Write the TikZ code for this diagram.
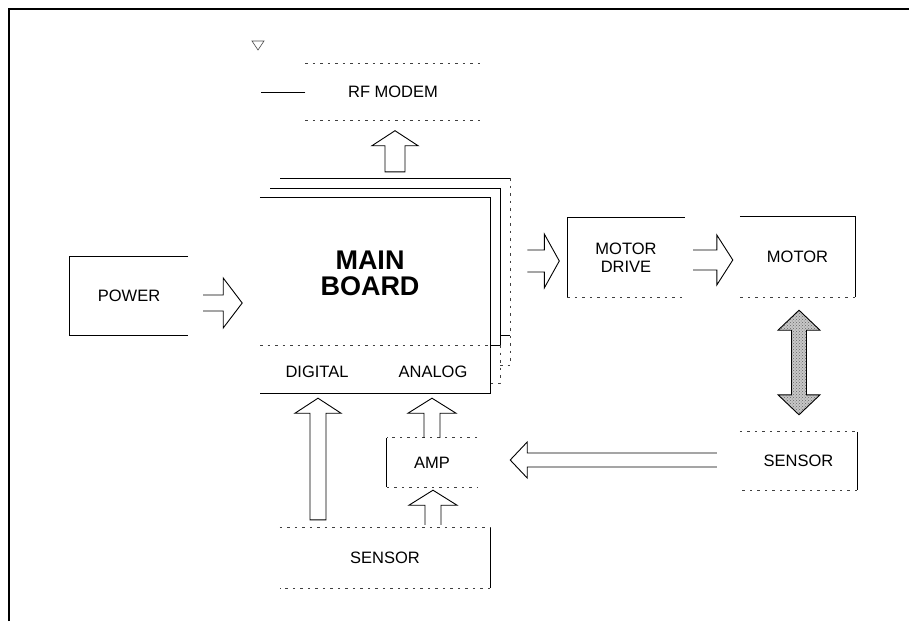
\documentclass[tikz,border=0pt]{standalone}
\usepackage{fontspec}
\setmainfont{Liberation Sans}
\usetikzlibrary{calc,patterns}
\tikzset{
  box/.style={draw=none, inner sep=0pt, font=\fontsize{16.5}{18}\selectfont, align=center},
  lab/.style={inner sep=0pt, font=\fontsize{16.5}{18}\selectfont, align=center},
  edge/.style={line width=1pt, black},
  faint/.style={line width=0.7pt, black!75, dash pattern=on 2.5pt off 5pt},
  arr/.style={line width=0.9pt, black, line join=miter},
  frame/.style={line width=1.6pt, black}
}
% open-tail hollow block arrow: [opts]{start}{end}{shaft half}{head half}{head length}
\newcommand\barrow[6][]{%
  \draw[arr,#1] let \p1=#2, \p2=#3, \n1={atan2(\y2-\y1,\x2-\x1)}, \n2={veclen(\x2-\x1,\y2-\y1)} in
    ($(\p1)+(\n1+90:#4pt)$) -- ($(\p1)+(\n1:\n2*1pt-#6pt)+(\n1+90:#4pt)$)
    -- ($(\p1)+(\n1:\n2*1pt-#6pt)+(\n1+90:#5pt)$) -- (\p2)
    -- ($(\p1)+(\n1:\n2*1pt-#6pt)+(\n1-90:#5pt)$) -- ($(\p1)+(\n1:\n2*1pt-#6pt)+(\n1-90:#4pt)$)
    -- ($(\p1)+(\n1-90:#4pt)$);}
% closed-tail hollow block arrow
\newcommand\barrowc[6][]{%
  \draw[arr,#1] let \p1=#2, \p2=#3, \n1={atan2(\y2-\y1,\x2-\x1)}, \n2={veclen(\x2-\x1,\y2-\y1)} in
    ($(\p1)+(\n1+90:#4pt)$) -- ($(\p1)+(\n1:\n2*1pt-#6pt)+(\n1+90:#4pt)$)
    -- ($(\p1)+(\n1:\n2*1pt-#6pt)+(\n1+90:#5pt)$) -- (\p2)
    -- ($(\p1)+(\n1:\n2*1pt-#6pt)+(\n1-90:#5pt)$) -- ($(\p1)+(\n1:\n2*1pt-#6pt)+(\n1-90:#4pt)$)
    -- ($(\p1)+(\n1-90:#4pt)$) -- cycle;}
% double-headed block arrow
\newcommand\dbarrow[6][]{%
  \draw[arr,#1] let \p1=#2, \p2=#3, \n1={atan2(\y2-\y1,\x2-\x1)}, \n2={veclen(\x2-\x1,\y2-\y1)} in
    (\p1) -- ($(\p1)+(\n1:#6pt)+(\n1+90:#5pt)$) -- ($(\p1)+(\n1:#6pt)+(\n1+90:#4pt)$)
    -- ($(\p1)+(\n1:\n2*1pt-#6pt)+(\n1+90:#4pt)$) -- ($(\p1)+(\n1:\n2*1pt-#6pt)+(\n1+90:#5pt)$)
    -- (\p2)
    -- ($(\p1)+(\n1:\n2*1pt-#6pt)+(\n1-90:#5pt)$) -- ($(\p1)+(\n1:\n2*1pt-#6pt)+(\n1-90:#4pt)$)
    -- ($(\p1)+(\n1:#6pt)+(\n1-90:#4pt)$) -- ($(\p1)+(\n1:#6pt)+(\n1-90:#5pt)$) -- cycle;}
\begin{document}
\begin{tikzpicture}[x=1pt,y=-1pt]
\useasboundingbox (0,0) rectangle (909,621);
% frame
\draw[frame] (9,621) -- (9,9) -- (909,9);

% boxes
\node[box, minimum width=175pt, minimum height=57pt] (rf) at (393,92) {RF MODEM};
\node[box, minimum width=118pt, minimum height=78pt] (power) at (129,296) {POWER};
\node[box, minimum width=230pt, minimum height=195pt] (mb) at (375,295.5) {};
\node[box, minimum width=117pt, minimum height=79pt] (md) at (626,257.5) {MOTOR\\DRIVE};
\node[box, minimum width=115pt, minimum height=80pt] (motor) at (797.5,257) {MOTOR};
\node[box, minimum width=117pt, minimum height=58pt] (sr) at (798.5,461) {SENSOR};
\node[box, minimum width=90pt, minimum height=49pt] (amp) at (432,462.5) {AMP};
\node[box, minimum width=210pt, minimum height=60pt] (sb) at (385,558) {SENSOR};

% main board texts
\node[lab, font=\fontsize{27}{26}\selectfont\bfseries] (mbt) at (370,273) {MAIN\\BOARD};
\node[lab] (dig) at (317,372) {DIGITAL};
\node[lab] (ana) at (433,372) {ANALOG};

% RF modem edges + antenna
\draw[faint] (rf.north west) -- (rf.north east);
\draw[faint] (rf.south west) -- (rf.south east);
\draw[edge] (rf.west) -- ++(-44,0);
\draw[line width=0.6pt, black!70] (252,41) -- (264,41) -- (258,50) -- cycle;

% power
\draw[edge] (power.north east) -- (power.north west) -- (power.south west) -- (power.south east);

% main board stack
\draw[edge] (280,178) -- (510,178);
\draw[faint] (510,178) -- (510,365);
\draw[edge] (500,335) -- (510,335);
\draw[faint] (500,365) -- (510,365);
\draw[edge] (270,188) -- (500,188) -- (500,345) -- (490,345);
\draw[faint] (500,345) -- (500,383) -- (490,383);
\draw[edge] (mb.north west) -- (mb.north east) -- (mb.south east) -- (mb.south west);
\coordinate (sep) at (260,345);
\draw[faint] (sep) -- (sep -| mb.east);

% motor drive, motor
\draw[edge] (md.north east) -- (md.north west) -- (md.south west);
\draw[faint] (md.south west) -- (md.south east);
\draw[edge] (motor.north west) -- (motor.north east) -- (motor.south east);
\draw[faint] (motor.south east) -- (motor.south west);

% sensors, amp
\draw[faint] (sr.north west) -- (sr.north east);
\draw[edge] (sr.north east) -- (sr.south east);
\draw[faint] (sr.south east) -- (sr.south west);
\draw[faint] (amp.north east) -- (amp.north west);
\draw[edge] (amp.north west) -- (amp.south west);
\draw[faint] (amp.south west) -- (amp.south east);
\draw[faint] (sb.north west) -- (sb.north east);
\draw[edge] (sb.north east) -- (sb.south east);
\draw[faint] (sb.south east) -- (sb.south west);

% block arrows
\barrowc{($(mb.north)+(20,-26)$)}{($(rf.south)+(2,10)$)}{10}{23}{15}
\barrow{($(power.east)+(15,7)$)}{($(power.east)+(54,7)$)}{8}{25}{19}
\barrow{($(md.west)+(-40,3.5)$)}{($(md.west)+(-8,3.5)$)}{11}{27}{15}
\barrow{($(md.east)+(8.5,2.5)$)}{($(motor.west)+(-7,3)$)}{10}{25}{16}
\dbarrow[preaction={fill=black!22}, pattern=crosshatch dots, pattern color=black!60]{($(motor.south)+(1.5,13)$)}{($(sr.north)+(0.5,-17)$)}{7.5}{21}{20}
\barrow{($(sr.west)+(-23,-1)$)}{($(amp.east)+(33,-2.5)$)}{7}{18}{17}
\barrow{(amp.north)}{($(amp.north |- mb.south)+(0,5)$)}{8}{24}{15}
\barrow{($(sb.north -| amp)+(1,-3)$)}{($(amp.south)+(1,3)$)}{8}{24}{15}
\barrowc{($(sb.north -| dig)+(1,-8)$)}{($(dig |- mb.south)+(1,5)$)}{8}{23}{15}
\end{tikzpicture}
\end{document}
